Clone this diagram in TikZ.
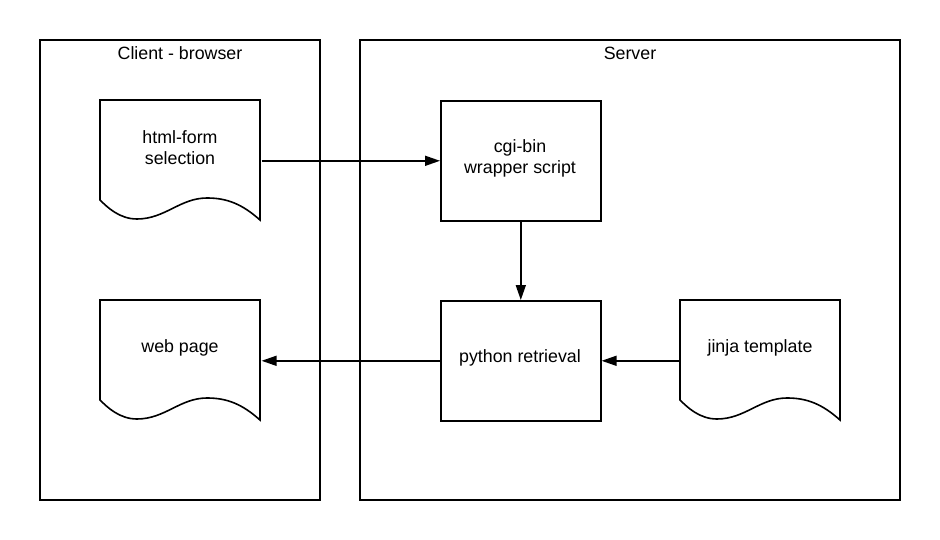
\documentclass[tikz,border=0pt]{standalone}
\usepackage{fontspec}
\setmainfont{Liberation Sans}
\usetikzlibrary{arrows.meta}
\begin{document}
\begin{tikzpicture}[x=1pt,y=-1pt,
  line width=1.6pt,
  lbl/.style={font=\fontsize{17.8}{21}\selectfont, align=center, inner sep=0pt},
  flow/.style={-{Triangle[length=15pt,width=10pt]}, line width=1.6pt},
  docbox/.style={inner sep=0pt, minimum width=160pt, minimum height=120pt, anchor=north west},
  procbox/.style={draw, minimum width=160pt, minimum height=120pt, inner sep=0pt, anchor=north west}]
  \useasboundingbox (0,0) rectangle (940,540);

  % tiers
  \draw (40,40) rectangle (320,500);
  \draw (360,40) rectangle (900,500);
  \node[lbl] (tclient) at (180,53) {Client - browser};
  \node[lbl] (tserver) at (630,53) {Server};

  % document shape with wavy bottom edge, top-left corner at #1,#2
  \newcommand{\docshape}[2]{%
    \begin{scope}[shift={(#1,#2)}]
    \draw[line join=miter] (0,0) -- (160,0) -- (160,120)
      .. controls (142,104) and (127,98) .. (107,98)
      .. controls (80,98) and (65,119) .. (37,119)
      .. controls (20,119) and (8,108) .. (0,100) -- cycle;
    \end{scope}}

  \docshape{100}{100}
  \docshape{100}{300}
  \docshape{680}{300}

  \node[docbox] (form) at (100,100) {};
  \node[docbox] (page) at (100,300) {};
  \node[docbox] (jinja) at (680,300) {};
  \node[lbl] at (180,148) {html-form\\selection};
  \node[lbl] at (180,348) {web page};
  \node[lbl] at (760,348) {jinja template};

  \node[procbox] (cgi) at (440,100) {};
  \node[lbl] at (520,158) {cgi-bin\\wrapper script};
  \node[procbox] (py) at (440,300) {};
  \node[lbl] at (520,358) {python retrieval};

  % connectors
  \draw[flow] (form.east) -- (cgi.west);
  \draw[flow] (cgi.south) -- (py.north);
  \draw[flow] (jinja.west) -- (py.east);
  \draw[flow] (py.west) -- (page.east);
\end{tikzpicture}
\end{document}
